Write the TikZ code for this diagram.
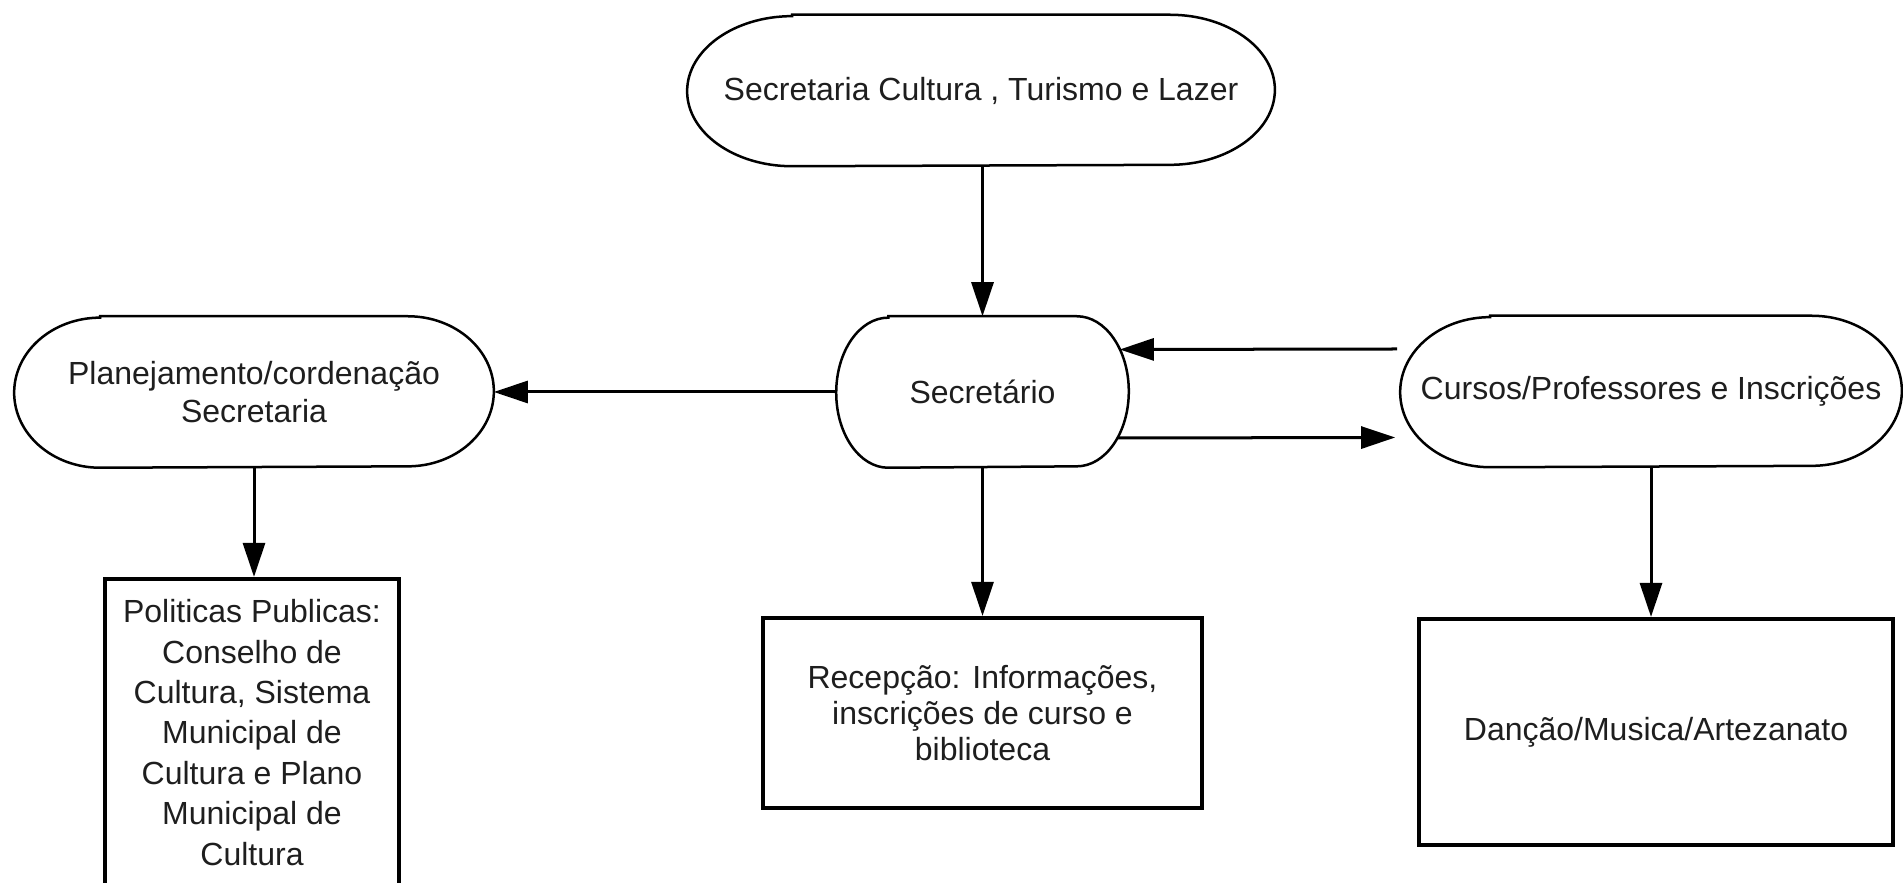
\documentclass[tikz,border=0pt]{standalone}
\usepackage{fontspec}
\setmainfont{Liberation Sans}
\usetikzlibrary{arrows.meta}
\definecolor{ink}{HTML}{1E1E1E}
\tikzset{
  termbox/.style={rectangle, draw=none, inner sep=0pt, minimum height=1.50cm,
    align=center, text=ink, font=\fontsize{9.1pt}{10.6pt}\selectfont},
  termline/.style={draw=black, line width=0.025cm},
  sqbox/.style={rectangle, draw=black, line width=0.04cm, inner sep=0pt,
    align=center, text=ink, font=\fontsize{9.1pt}{10.2pt}\selectfont},
  arr/.style={-{Triangle[length=0.34cm,width=0.22cm]}, line width=0.03cm, draw=black},
}
% outline of a terminator node: straight top/bottom, half-ellipse ends
\newcommand\termoutline[2]{%
  \draw[termline] ([xshift=#2]#1.north west) -- ([xshift=-#2]#1.north east)
    arc[start angle=90, end angle=-90, x radius=#2, y radius=0.75cm]
    -- ([xshift=#2]#1.south west)
    arc[start angle=270, end angle=90, x radius=#2, y radius=0.75cm] -- cycle;}
\begin{document}
\begin{tikzpicture}[x=0.01cm, y=0.01cm]
\useasboundingbox (0,0) rectangle (1903,-883);
\clip (0,0) rectangle (1903,-883);
\fill[white] (0,0) rectangle (1903,-883);

% terminator nodes
\node[termbox, minimum width=5.86cm] (top) at (981,-90.5) {Secretaria Cultura , Turismo e Lazer};
\node[termbox, minimum width=4.78cm] (plan) at (254,-392) {Planejamento/cordenação\\Secretaria};
\node[termbox, minimum width=2.91cm] (sec) at (982.5,-392) {Secretário};
\node[termbox, minimum width=5.00cm] (cursos) at (1651,-391.5) {Cursos/Professores e Inscrições};
\termoutline{top}{1.05cm}
\termoutline{plan}{0.86cm}
\termoutline{sec}{0.52cm}
\termoutline{cursos}{0.90cm}

% rectangular boxes
\node[sqbox, minimum width=2.94cm, minimum height=3.07cm,
  font=\fontsize{9.1pt}{11.5pt}\selectfont] (pol) at (252,-732.5)
  {Politicas Publicas:\\Conselho de\\Cultura, Sistema\\Municipal de\\Cultura e Plano\\Municipal de\\Cultura};
\node[sqbox, minimum width=4.39cm, minimum height=1.90cm] (rec) at (982.5,-713)
  {Recepção: Informações,\\inscrições de curso e\\biblioteca};
\node[sqbox, minimum width=4.74cm, minimum height=2.26cm] (danca) at (1656,-732)
  {Danção/Musica/Artezanato};

% connectors
\draw[arr] (sec.north |- top.south) -- (sec.north);
\draw[arr] (sec.west) -- (plan.east);
\draw[arr] ([shift={(-3,42.5)}]cursos.west) -- ([shift={(-9,42.5)}]sec.east);
\draw[arr] ([shift={(-11,-46)}]sec.east) -- ([shift={(-5,-46)}]cursos.west);
\draw[arr] (plan.south) -- (plan.south |- pol.north);
\draw[arr] (sec.south) -- (rec.north);
\draw[arr] (cursos.south) -- (cursos.south |- danca.north);
\end{tikzpicture}
\end{document}
